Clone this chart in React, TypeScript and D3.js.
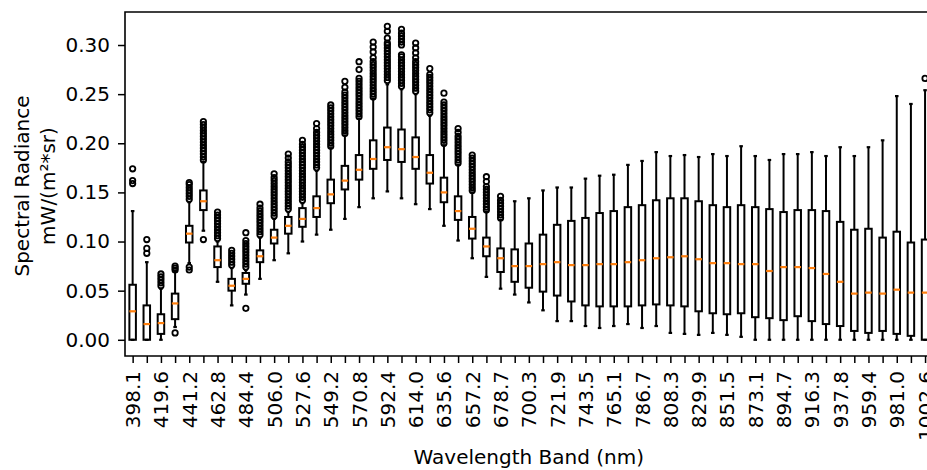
import React, { useRef, useEffect } from "react";
import * as d3 from "d3";

/* tick labels: only every second band carries a label */
const BAND_LABELS = [
  "398.1", "419.6", "441.2", "462.8", "484.4", "506.0", "527.6", "549.2",
  "570.8", "592.4", "614.0", "635.6", "657.2", "678.7", "700.3", "721.9",
  "743.5", "765.1", "786.7", "808.3", "829.9", "851.5", "873.1", "894.7",
  "916.3", "937.8", "959.4", "981.0", "1002.6",
];

/* box statistics per band */
const WHISKER_LO = [
  0.0, 0.0, 0.0, 0.013, 0.078, 0.111, 0.059, 0.035, 0.046, 0.062,
  0.081, 0.088, 0.1, 0.107, 0.112, 0.123, 0.135, 0.144, 0.151, 0.144,
  0.138, 0.133, 0.116, 0.101, 0.083, 0.064, 0.052, 0.046, 0.038, 0.03,
  0.019, 0.019, 0.014, 0.012, 0.014, 0.016, 0.012, 0.014, 0.007, 0.006,
  0.005, 0.007, 0.005, 0.003, 0.0, 0.0, 0.0, 0.0, 0.0, 0.0,
  0.0, 0.0, 0.0, 0.0, 0.0, 0.0, 0.0,
];
const Q1 = [
  0.0, 0.0, 0.006, 0.021, 0.099, 0.132, 0.074, 0.05, 0.057, 0.079,
  0.098, 0.108, 0.115, 0.125, 0.139, 0.153, 0.163, 0.174, 0.183, 0.181,
  0.174, 0.159, 0.14, 0.122, 0.103, 0.085, 0.069, 0.059, 0.053, 0.049,
  0.045, 0.039, 0.035, 0.034, 0.034, 0.034, 0.035, 0.036, 0.035, 0.034,
  0.029, 0.027, 0.026, 0.027, 0.023, 0.022, 0.02, 0.024, 0.019, 0.016,
  0.014, 0.009, 0.007, 0.009, 0.006, 0.004, 0.0,
];
const MEDIAN = [
  0.029, 0.016, 0.017, 0.037, 0.108, 0.141, 0.081, 0.055, 0.062, 0.085,
  0.104, 0.116, 0.123, 0.134, 0.148, 0.162, 0.173, 0.184, 0.196, 0.194,
  0.186, 0.17, 0.15, 0.131, 0.113, 0.095, 0.083, 0.075, 0.075, 0.077,
  0.079, 0.076, 0.076, 0.077, 0.077, 0.079, 0.081, 0.083, 0.084, 0.085,
  0.082, 0.078, 0.078, 0.077, 0.077, 0.07, 0.074, 0.074, 0.073, 0.067,
  0.059, 0.047, 0.048, 0.047, 0.051, 0.048, 0.048,
];
const Q3 = [
  0.056, 0.035, 0.026, 0.047, 0.116, 0.152, 0.095, 0.062, 0.068, 0.091,
  0.112, 0.125, 0.134, 0.146, 0.163, 0.177, 0.188, 0.203, 0.216, 0.214,
  0.206, 0.188, 0.165, 0.146, 0.125, 0.104, 0.093, 0.092, 0.098, 0.107,
  0.117, 0.121, 0.124, 0.129, 0.131, 0.135, 0.137, 0.142, 0.144, 0.144,
  0.141, 0.137, 0.135, 0.137, 0.135, 0.133, 0.13, 0.132, 0.132, 0.131,
  0.12, 0.112, 0.113, 0.104, 0.11, 0.099, 0.102,
];
const WHISKER_HI = [
  0.131, 0.079, 0.052, 0.07, 0.14, 0.181, 0.1, 0.073, 0.071, 0.104,
  0.123, 0.13, 0.139, 0.172, 0.195, 0.208, 0.225, 0.245, 0.26, 0.255,
  0.25, 0.228, 0.198, 0.178, 0.15, 0.13, 0.122, 0.141, 0.144, 0.152,
  0.155, 0.155, 0.164, 0.167, 0.168, 0.178, 0.182, 0.191, 0.187, 0.188,
  0.186, 0.189, 0.187, 0.197, 0.187, 0.183, 0.189, 0.189, 0.191, 0.187,
  0.196, 0.187, 0.196, 0.203, 0.248, 0.24, 0.254,
];

/* outliers per band (bands 27..55 have none) */
const FLIERS: number[][] = [
  [0.159, 0.162, 0.174],
  [0.088, 0.093, 0.102],
  [0.055, 0.058, 0.061, 0.064, 0.067],
  [0.007, 0.071, 0.073, 0.075],
  [0.071, 0.074, 0.143, 0.146, 0.149, 0.152, 0.155, 0.158, 0.16],
  [0.102, 0.183, 0.186, 0.189, 0.192, 0.195, 0.198, 0.201, 0.204, 0.207, 0.21, 0.213, 0.216, 0.219, 0.222],
  [0.103, 0.106, 0.109, 0.112, 0.115, 0.118, 0.121, 0.124, 0.127, 0.13],
  [0.076, 0.079, 0.082, 0.085, 0.088, 0.091],
  [0.032, 0.074, 0.077, 0.08, 0.083, 0.086, 0.089, 0.092, 0.095, 0.098, 0.101, 0.109],
  [0.107, 0.11, 0.113, 0.116, 0.119, 0.122, 0.125, 0.128, 0.131, 0.134, 0.138],
  [0.126, 0.129, 0.132, 0.135, 0.138, 0.141, 0.144, 0.147, 0.15, 0.153, 0.156, 0.159, 0.162, 0.165, 0.169],
  [0.133, 0.136, 0.139, 0.142, 0.145, 0.148, 0.151, 0.154, 0.157, 0.16, 0.163, 0.166, 0.169, 0.172, 0.175, 0.178, 0.181, 0.185, 0.189],
  [0.142, 0.145, 0.148, 0.151, 0.154, 0.157, 0.16, 0.163, 0.166, 0.169, 0.172, 0.175, 0.178, 0.181, 0.184, 0.187, 0.19, 0.193, 0.196, 0.199, 0.203],
  [0.175, 0.178, 0.181, 0.184, 0.187, 0.19, 0.193, 0.196, 0.199, 0.202, 0.205, 0.208, 0.211, 0.215, 0.22],
  [0.197, 0.2, 0.203, 0.206, 0.209, 0.212, 0.215, 0.218, 0.221, 0.224, 0.227, 0.23, 0.233, 0.236, 0.239],
  [0.21, 0.213, 0.216, 0.219, 0.222, 0.225, 0.228, 0.231, 0.234, 0.237, 0.24, 0.243, 0.246, 0.249, 0.252, 0.257, 0.263],
  [0.227, 0.23, 0.233, 0.236, 0.239, 0.242, 0.245, 0.248, 0.251, 0.254, 0.257, 0.26, 0.263, 0.266, 0.275, 0.283],
  [0.247, 0.25, 0.253, 0.256, 0.259, 0.262, 0.265, 0.268, 0.271, 0.274, 0.277, 0.28, 0.283, 0.287, 0.293, 0.298, 0.303],
  [0.264, 0.267, 0.27, 0.273, 0.276, 0.279, 0.282, 0.285, 0.288, 0.291, 0.294, 0.297, 0.3, 0.302, 0.307, 0.314, 0.319],
  [0.258, 0.261, 0.264, 0.267, 0.27, 0.273, 0.276, 0.279, 0.282, 0.285, 0.288, 0.29, 0.3, 0.303, 0.306, 0.309, 0.312, 0.316],
  [0.253, 0.256, 0.259, 0.262, 0.265, 0.268, 0.271, 0.274, 0.277, 0.28, 0.283, 0.287, 0.292, 0.297, 0.302],
  [0.231, 0.234, 0.237, 0.24, 0.243, 0.246, 0.249, 0.252, 0.255, 0.258, 0.261, 0.264, 0.267, 0.27, 0.276],
  [0.2, 0.203, 0.206, 0.209, 0.212, 0.215, 0.218, 0.221, 0.224, 0.227, 0.23, 0.233, 0.236, 0.239, 0.242, 0.251],
  [0.18, 0.183, 0.186, 0.189, 0.192, 0.195, 0.198, 0.201, 0.204, 0.207, 0.211, 0.215],
  [0.152, 0.155, 0.158, 0.161, 0.164, 0.167, 0.17, 0.173, 0.176, 0.179, 0.182, 0.185, 0.188],
  [0.132, 0.135, 0.138, 0.141, 0.144, 0.147, 0.15, 0.153, 0.156, 0.161, 0.166],
  [0.124, 0.127, 0.13, 0.133, 0.136, 0.139, 0.142, 0.146],
  [], [], [], [], [], [], [], [], [], [],
  [], [], [], [], [], [], [], [], [], [],
  [], [], [], [], [], [], [], [], [],
  [0.266],
];

const Y_TICKS = [0, 0.05, 0.1, 0.15, 0.2, 0.25, 0.3];

export default function App() {
  const svgRef = useRef<SVGSVGElement | null>(null);

  useEffect(() => {
    /* ---- layout ---- */
    const W = 927;
    const H = 470;
    const L = 125;
    const R = 932.7; // right spine sits just past the picture edge
    const T = 12;
    const B = 356;
    const FONT = "DejaVu Sans";
    const FS = 20;
    const n = MEDIAN.length;

    const x = d3.scaleLinear().domain([-0.54, n - 1 + 0.54]).range([L, R]);
    const y = d3.scaleLinear().domain([-0.0165, 0.3336]).range([B, T]);
    const unit = x(1) - x(0);
    const boxW = 0.46 * unit;
    const capW = 0.25 * unit;

    const svg = d3
      .select(svgRef.current)
      .attr("width", W)
      .attr("height", H)
      .attr("viewBox", `0 0 ${W} ${H}`)
      .style("font-family", FONT);
    svg.selectAll("*").remove();

    svg.append("rect").attr("width", W).attr("height", H).attr("fill", "#fff");

    const idx = d3.range(n);
    const g = svg.append("g");

    /* ---- whiskers ---- */
    g.selectAll("line.wlo")
      .data(idx)
      .join("line")
      .attr("class", "wlo")
      .attr("x1", (i) => x(i))
      .attr("x2", (i) => x(i))
      .attr("y1", (i) => y(Q1[i]))
      .attr("y2", (i) => y(WHISKER_LO[i]))
      .attr("stroke", "#000")
      .attr("stroke-width", 2);
    g.selectAll("line.whi")
      .data(idx)
      .join("line")
      .attr("class", "whi")
      .attr("x1", (i) => x(i))
      .attr("x2", (i) => x(i))
      .attr("y1", (i) => y(Q3[i]))
      .attr("y2", (i) => y(WHISKER_HI[i]))
      .attr("stroke", "#000")
      .attr("stroke-width", 2);

    /* ---- caps ---- */
    const caps = idx.flatMap((i) => [
      { i, v: WHISKER_LO[i] },
      { i, v: WHISKER_HI[i] },
    ]);
    g.selectAll("line.cap")
      .data(caps)
      .join("line")
      .attr("class", "cap")
      .attr("x1", (d) => x(d.i) - capW / 2)
      .attr("x2", (d) => x(d.i) + capW / 2)
      .attr("y1", (d) => y(d.v))
      .attr("y2", (d) => y(d.v))
      .attr("stroke", "#000")
      .attr("stroke-width", 2.2);

    /* ---- boxes ---- */
    g.selectAll("rect.box")
      .data(idx)
      .join("rect")
      .attr("class", "box")
      .attr("x", (i) => x(i) - boxW / 2)
      .attr("y", (i) => y(Q3[i]))
      .attr("width", boxW)
      .attr("height", (i) => y(Q1[i]) - y(Q3[i]))
      .attr("fill", "none")
      .attr("stroke", "#000")
      .attr("stroke-width", 2);

    /* ---- medians ---- */
    g.selectAll("line.med")
      .data(idx)
      .join("line")
      .attr("class", "med")
      .attr("x1", (i) => x(i) - boxW / 2)
      .attr("x2", (i) => x(i) + boxW / 2)
      .attr("y1", (i) => y(MEDIAN[i]))
      .attr("y2", (i) => y(MEDIAN[i]))
      .attr("stroke", "#ff7f0e")
      .attr("stroke-width", 2.2);

    /* ---- fliers ---- */
    const fl = idx.flatMap((i) => (FLIERS[i] ?? []).map((v) => ({ i, v })));
    g.selectAll("circle")
      .data(fl)
      .join("circle")
      .attr("cx", (d) => x(d.i))
      .attr("cy", (d) => y(d.v))
      .attr("r", 2.7)
      .attr("fill", "none")
      .attr("stroke", "#000")
      .attr("stroke-width", 1.8);

    /* ---- y axis ---- */
    const yAxis = svg
      .append("g")
      .attr("transform", `translate(${L},0)`)
      .call(
        d3
          .axisLeft(y)
          .tickValues(Y_TICKS)
          .tickFormat((d) => d3.format(".2f")(d as number))
          .tickSizeOuter(0)
          .tickSize(7)
          .tickPadding(8)
      );
    yAxis.select(".domain").remove();
    yAxis.selectAll(".tick line").attr("stroke", "#000").attr("stroke-width", 1.5);
    yAxis
      .selectAll(".tick text")
      .attr("fill", "#000")
      .style("font-size", `${FS}px`)
      .style("font-family", FONT);

    /* ---- x axis ---- */
    const xAxis = svg
      .append("g")
      .attr("transform", `translate(0,${B})`)
      .call(
        d3
          .axisBottom(x)
          .tickValues(idx)
          .tickFormat((d) => {
            const i = d as number;
            return i % 2 === 0 ? BAND_LABELS[i / 2] ?? "" : "";
          })
          .tickSizeOuter(0)
          .tickSize(7)
      );
    xAxis.select(".domain").remove();
    xAxis.selectAll(".tick line").attr("stroke", "#000").attr("stroke-width", 1.5);
    xAxis
      .selectAll(".tick text")
      .attr("fill", "#000")
      .attr("x", 0)
      .attr("y", 0)
      .attr("dy", null)
      .attr("transform", "translate(0,15) rotate(-90)")
      .attr("text-anchor", "end")
      .attr("dominant-baseline", "central")
      .style("font-size", `${FS}px`)
      .style("font-family", FONT);

    /* ---- spines ---- */
    svg
      .append("path")
      .attr("d", `M${R},${T}H${L}V${B}H${R}`)
      .attr("fill", "none")
      .attr("stroke", "#000")
      .attr("stroke-width", 1.6);

    /* ---- axis titles ---- */
    svg
      .append("text")
      .attr("x", (L + R) / 2)
      .attr("y", 464)
      .attr("text-anchor", "middle")
      .style("font-size", `${FS}px`)
      .text("Wavelength Band (nm)");

    const yc = (T + B) / 2 + 2;
    [
      { t: "Spectral Radiance", cx: 22 },
      { t: "mW/(m²*sr)", cx: 48 },
    ].forEach(({ t, cx }) => {
      svg
        .append("text")
        .attr("transform", `translate(${cx},${yc}) rotate(-90)`)
        .attr("text-anchor", "middle")
        .attr("dominant-baseline", "central")
        .style("font-size", `${FS}px`)
        .text(t);
    });
  }, []);

  return (
    <svg
      ref={svgRef}
      style={{ position: "absolute", left: 0, top: 0, display: "block" }}
    />
  );
}
